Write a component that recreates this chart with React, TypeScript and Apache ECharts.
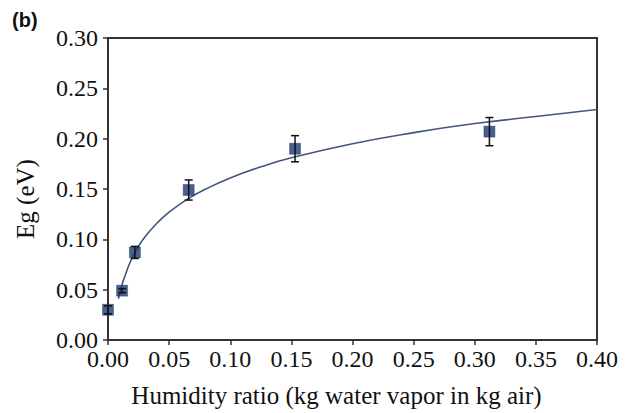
import React, { useEffect, useRef } from "react";
import * as echarts from "echarts";

// Measured points
const humidity = [0.0, 0.0115, 0.022, 0.066, 0.153, 0.312];
const eg = [0.030, 0.049, 0.087, 0.149, 0.190, 0.207];
const egErr = [0.004, 0.002, 0.006, 0.010, 0.013, 0.014];

// Fitted curve
const fitX = [0.0085, 0.01, 0.012, 0.014, 0.017, 0.02, 0.025, 0.03, 0.04, 0.05, 0.065, 0.08, 0.1, 0.125, 0.15, 0.2, 0.25, 0.3, 0.35, 0.4];
const fitY = [0.041, 0.048, 0.057, 0.064, 0.074, 0.082, 0.093, 0.102, 0.116, 0.127, 0.140, 0.150, 0.161, 0.172, 0.181, 0.195, 0.206, 0.215, 0.222, 0.229];

const xTicks = { min: 0, max: 0.4, interval: 0.05 };
const yTicks = { min: 0, max: 0.3, interval: 0.05 };

const SERIF = "Liberation Serif";

export default function App() {
  const ref = useRef<HTMLDivElement>(null);
  useEffect(() => {
    if (!ref.current) return;
    const chart = echarts.init(ref.current, undefined, { renderer: "svg" });
    const axisLine = { show: true, lineStyle: { color: "#333333", width: 2 } };
    const axisTick = { show: true, inside: false, length: 5, lineStyle: { color: "#333333", width: 1.5 } };
    chart.setOption({
      animation: false,
      backgroundColor: "#ffffff",
      textStyle: { fontFamily: SERIF, fontSize: 24 },
      graphic: [
        {
          type: "text",
          left: 12,
          top: 10,
          style: { text: "(b)", font: "bold 20px Liberation Sans, Arial, sans-serif", fill: "#111" },
        },
      ],
      grid: {
        left: 108,
        right: 35,
        top: 38,
        bottom: 70,
        show: true,
        borderColor: "#333333",
        borderWidth: 2,
        backgroundColor: "transparent",
      },
      xAxis: {
        type: "value",
        min: xTicks.min,
        max: xTicks.max,
        interval: xTicks.interval,
        name: "Humidity ratio (kg water vapor in kg air)",
        nameLocation: "middle",
        nameGap: 43,
        nameTextStyle: { fontFamily: SERIF, fontSize: 25, color: "#111", padding: [0, 32, 0, 0] },
        axisLine,
        axisTick,
        axisLabel: {
          show: true,
          fontSize: 24,
          fontFamily: SERIF,
          color: "#111111",
          margin: 7,
          formatter: (v: number) => v.toFixed(2),
        },
        splitLine: { show: false },
      },
      yAxis: {
        type: "value",
        min: yTicks.min,
        max: yTicks.max,
        interval: yTicks.interval,
        name: "Eg (eV)",
        nameLocation: "middle",
        nameGap: 70,
        nameTextStyle: { fontFamily: SERIF, fontSize: 25, color: "#111", padding: [0, 20, 0, 0] },
        axisLine,
        axisTick,
        axisLabel: {
          show: true,
          fontSize: 24,
          fontFamily: SERIF,
          color: "#111111",
          margin: 10,
          formatter: (v: number) => v.toFixed(2),
        },
        splitLine: { show: false },
      },
      series: [
        {
          type: "line",
          data: fitX.map((x, i) => [x, fitY[i]]),
          smooth: true,
          showSymbol: false,
          lineStyle: { color: "#44557f", width: 1.6 },
          z: 2,
        },
        {
          type: "custom",
          data: humidity.map((x, i) => [x, eg[i] - egErr[i], eg[i] + egErr[i]]),
          renderItem: (params: any, api: any) => {
            const x = api.value(0);
            const lo = api.coord([x, api.value(1)]);
            const hi = api.coord([x, api.value(2)]);
            const cap = 4;
            const style = { stroke: "#111", lineWidth: 1.5 };
            return {
              type: "group",
              children: [
                { type: "line", shape: { x1: lo[0], y1: lo[1], x2: hi[0], y2: hi[1] }, style },
                { type: "line", shape: { x1: lo[0] - cap, y1: lo[1], x2: lo[0] + cap, y2: lo[1] }, style },
                { type: "line", shape: { x1: hi[0] - cap, y1: hi[1], x2: hi[0] + cap, y2: hi[1] }, style },
              ],
            };
          },
          z: 4,
        },
        {
          type: "scatter",
          data: humidity.map((x, i) => [x, eg[i]]),
          symbol: "rect",
          symbolSize: 11,
          itemStyle: { color: "#1c3a73", borderColor: "#16306a", borderWidth: 0.5 },
          z: 3,
        },
      ],
    });
    return () => chart.dispose();
  }, []);
  return (
    <div
      ref={ref}
      style={{ position: "fixed", left: 0, top: 0, width: 632, height: 413, background: "#fff" }}
    />
  );
}
